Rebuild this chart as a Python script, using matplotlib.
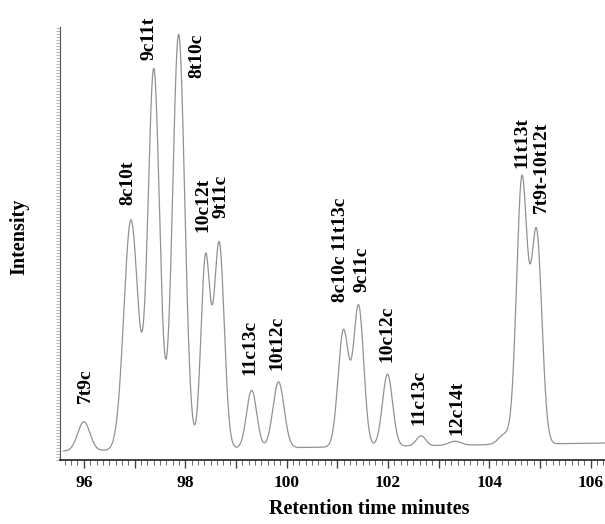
import numpy as np
import matplotlib
matplotlib.use('Agg')
import matplotlib.pyplot as plt
from matplotlib.ticker import MultipleLocator, FuncFormatter, NullLocator

# data ------------------------------------------------------------------

# peak table (retention time in minutes,
# height above baseline and width in arbitrary detector units)
peak_names = ['7t9c', '8c10t', '9c11t', '8t10c', '10c12t', '9t11c',
              '11c13c', '10t12c', '8c10c 11t13c', '9c11c', '10c12c',
              '11c13c', '12c14t', '', '11t13t', '7t9t-10t12t']
peak_times = [96.00, 96.93, 97.38, 97.87, 98.40, 98.67,
              99.31, 99.84, 101.12, 101.42, 101.99,
              102.65, 103.32, 104.30, 104.64, 104.93]
peak_heights = [29, 230, 380, 415, 190, 205,
                58, 66, 116, 140, 72,
                10, 4, 10, 264, 210]
peak_widths = [0.12, 0.14, 0.115, 0.12, 0.09, 0.10,
               0.10, 0.11, 0.105, 0.10, 0.10,
               0.09, 0.12, 0.12, 0.105, 0.105]

# baseline level at start and end of the run
baseline_start = 9
baseline_end = 17

run_start = 95.6
run_end = 106.3

# where each peak label sits (minutes, intensity)
label_x = [96.04, 96.87, 97.28, 98.23, 98.35, 98.70,
           99.27, 99.81, 101.07, 101.48, 101.98,
           102.61, 103.36, None, 104.64, 105.03]
label_y = [57, 255, 400, 382, 228, 242,
           85, 90, 158, 168, 98,
           35, 25, None, 292, 247]

# function --------------------------------------------------------------

def build_trace(times, heights, widths, n=3000):
    '''sum of gaussian peaks on a drifting baseline

    # Arguments
        times, heights, widths: lists, peak table
    # Returns
        t, signal: ndarray
    '''
    t = np.linspace(run_start, run_end, n)
    signal = np.linspace(baseline_start, baseline_end, n)
    for rt, h, w in zip(times, heights, widths):
        signal = signal + h * np.exp(-0.5 * ((t - rt) / w) ** 2)
    return t, signal

# plot ------------------------------------------------------------------

serif = ['Liberation Serif', 'DejaVu Serif']

fig = plt.figure(figsize=(6.05, 5.24), dpi=100)
ax = fig.add_axes([60 / 605, 1 - 460 / 524, 545 / 605, 433 / 524])

t, signal = build_trace(peak_times, peak_heights, peak_widths)
ax.plot(t, signal, color='#929292', linewidth=0.9)

for name, x, y in zip(peak_names, label_x, label_y):
    if not name:
        continue
    ax.text(x, y, name, rotation=90, ha='center', va='bottom',
            family=serif, fontweight='bold', fontsize=14)

ax.set_xlim(95.53, 106.28)
ax.set_ylim(0, 433)

ax.spines['top'].set_visible(False)
ax.spines['right'].set_visible(False)
ax.spines['left'].set_color('#555555')
ax.spines['bottom'].set_color('#222222')
ax.spines['bottom'].set_linewidth(1.2)

ax.xaxis.set_major_locator(MultipleLocator(1))
ax.xaxis.set_minor_locator(MultipleLocator(0.125))
ax.xaxis.set_major_formatter(
    FuncFormatter(lambda v, p: '%d' % v if int(round(v)) % 2 == 0 else ''))
ax.tick_params(axis='x', which='major', length=6, width=1, color='#444444', pad=5)
ax.tick_params(axis='x', which='minor', length=3.5, width=0.7, color='#666666')
for lab in ax.get_xticklabels():
    lab.set_family(serif)
    lab.set_fontweight('bold')
    lab.set_fontsize(12.5)

# ruler-like ticks on the intensity axis, no values
ax.yaxis.set_major_locator(NullLocator())
ax.yaxis.set_minor_locator(MultipleLocator(3))
ax.tick_params(axis='y', which='minor', length=3, width=0.5, color='#999999')

fig.text(369 / 605, 1 - 509 / 524, 'Retention time minutes', ha='center', va='center',
         family=serif, fontweight='bold', fontsize=14.5)
fig.text(19 / 605, 1 - 237 / 524, 'Intensity', ha='center', va='center', rotation=90,
         family=serif, fontweight='bold', fontsize=14.5)

fig.savefig('out.png', dpi=100)
